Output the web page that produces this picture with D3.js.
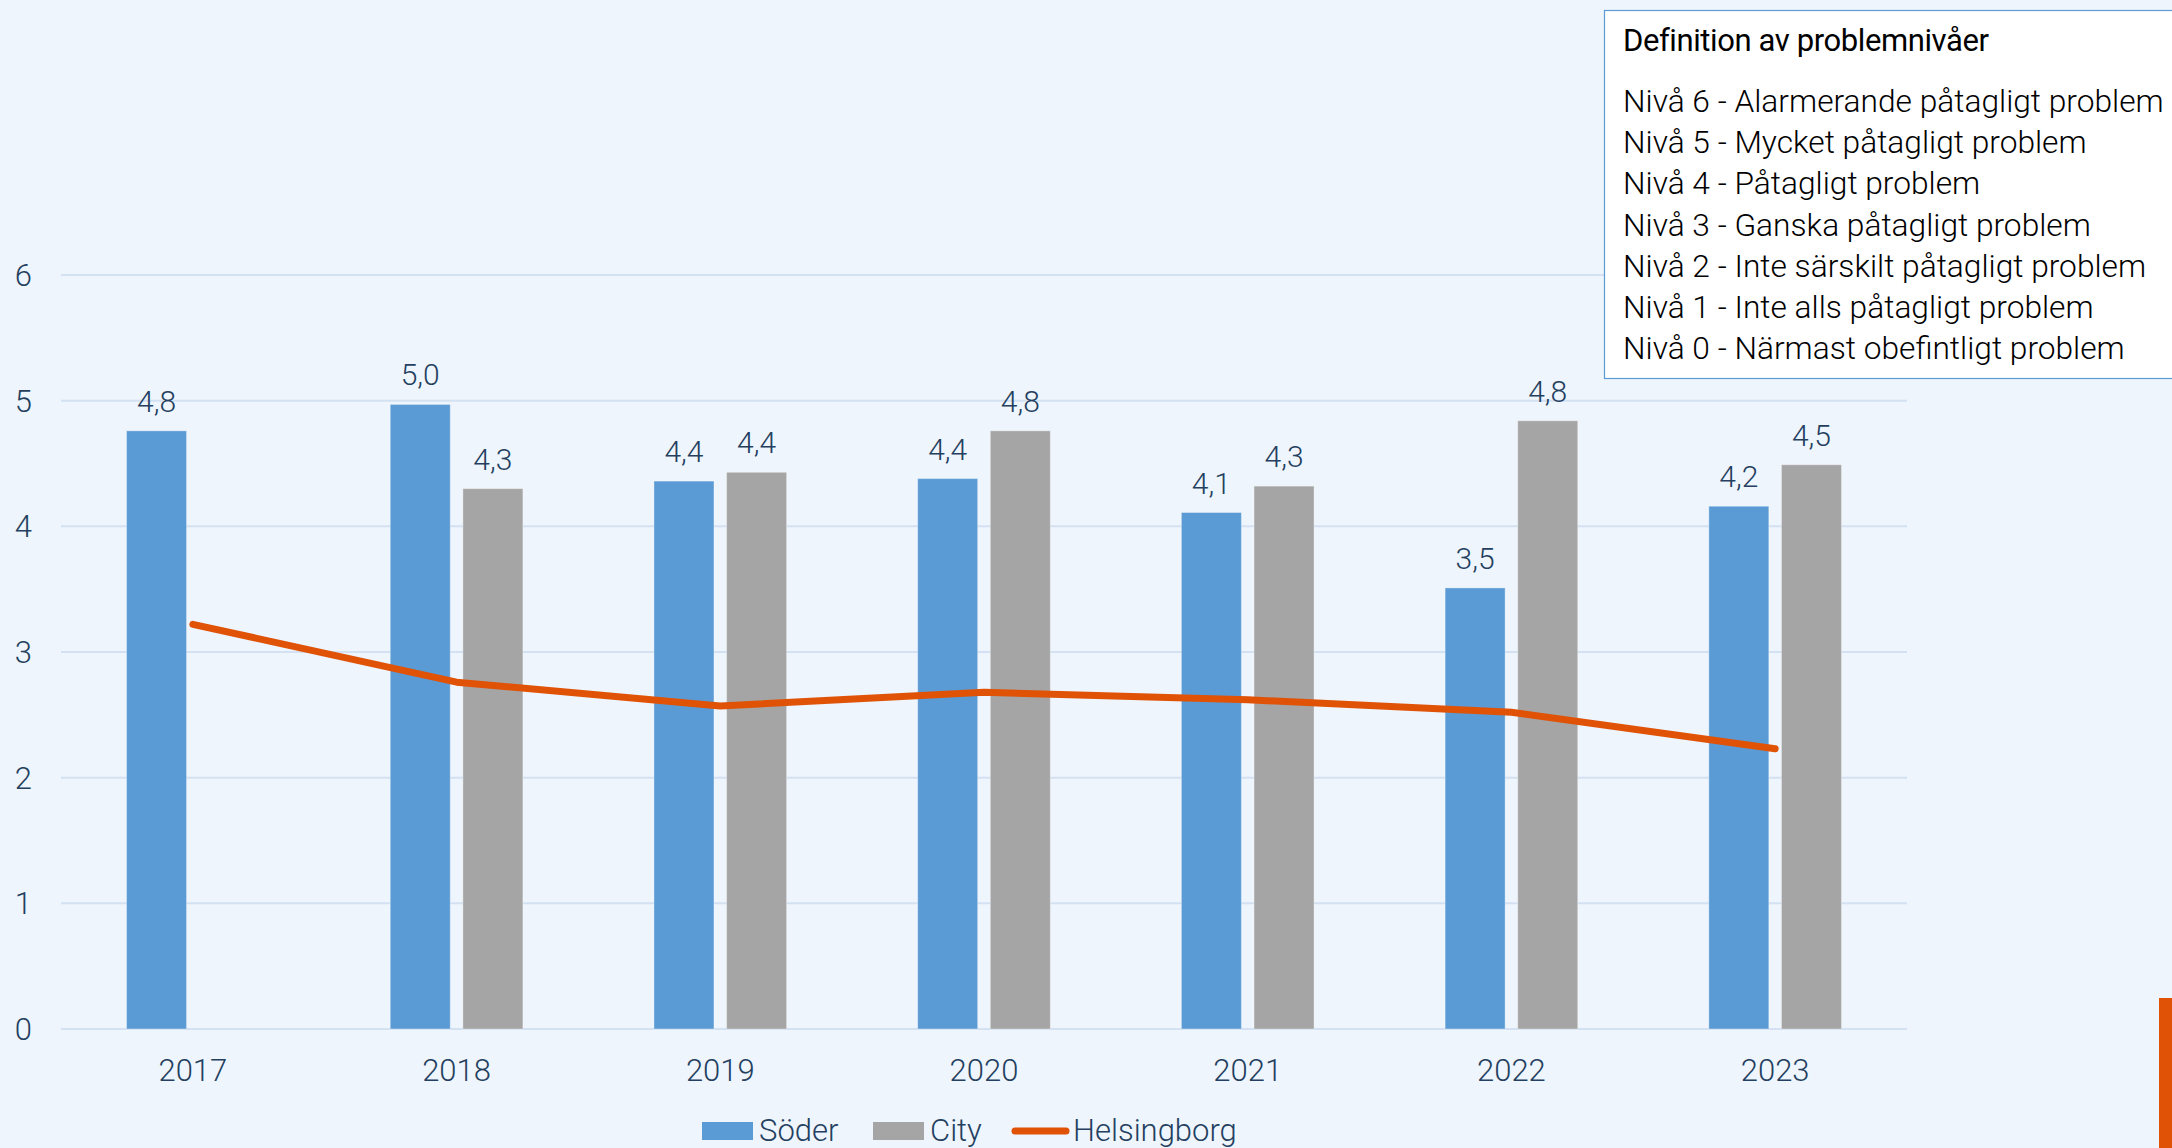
<!DOCTYPE html>
<html>
<head>
<meta charset="utf-8">
<script src="https://cdn.jsdelivr.net/npm/d3@7"></script>
<style>
  html, body { margin: 0; padding: 0; background: #eef5fc; }
  svg { display: block; font-family: Roboto, "Noto Sans", sans-serif; }
</style>
</head>
<body>
<div id="chart"></div>
<script>
// Data
const years = ["2017", "2018", "2019", "2020", "2021", "2022", "2023"];
const series = ["Söder", "City"];
const soder = [4.76, 4.97, 4.36, 4.38, 4.11, 3.51, 4.16];
const city = [null, 4.30, 4.43, 4.76, 4.32, 4.84, 4.49];
const helsingborg = [3.22, 2.76, 2.57, 2.68, 2.62, 2.52, 2.23];
const yTicks = [0, 1, 2, 3, 4, 5, 6];
const levelTitle = "Definition av problemnivåer";
const levels = [
  "Nivå 6 - Alarmerande påtagligt problem",
  "Nivå 5 - Mycket påtagligt problem",
  "Nivå 4 - Påtagligt problem",
  "Nivå 3 - Ganska påtagligt problem",
  "Nivå 2 - Inte särskilt påtagligt problem",
  "Nivå 1 - Inte alls påtagligt problem",
  "Nivå 0 - Närmast obefintligt problem"
];

const W = 2172, H = 1148;
const colors = { "Söder": "#5b9bd5", "City": "#a5a5a5", line: "#e05206" };
const textColor = "#243f60";
const plot = { left: 61, right: 1907, top: 275, bottom: 1029 };

const svg = d3.select("#chart").append("svg")
  .attr("width", W)
  .attr("height", H);

svg.append("rect")
  .attr("width", W)
  .attr("height", H)
  .attr("fill", "#eef5fc");

// Scales
const x0 = d3.scaleBand()
  .domain(years)
  .range([plot.left, plot.right])
  .padding(0);

const groupW = x0.bandwidth() * 0.503;
const x1 = d3.scaleBand()
  .domain(series)
  .range([0, groupW])
  .paddingInner(0.174);

const y = d3.scaleLinear()
  .domain([0, 6])
  .range([plot.bottom, plot.top]);

// Gridlines
svg.append("g")
  .selectAll("line")
  .data(yTicks)
  .join("line")
  .attr("x1", plot.left)
  .attr("x2", plot.right)
  .attr("y1", d => y(d))
  .attr("y2", d => y(d))
  .attr("stroke", "#d3e1f2")
  .attr("stroke-width", 2);

// Y tick labels
svg.append("g")
  .selectAll("text")
  .data(yTicks)
  .join("text")
  .attr("x", 32)
  .attr("y", d => y(d))
  .attr("dy", "0.35em")
  .attr("text-anchor", "end")
  .attr("font-size", 31)
  .attr("font-weight", 300)
  .attr("fill", textColor)
  .text(d => d);

// X tick labels
svg.append("g")
  .selectAll("text")
  .data(years)
  .join("text")
  .attr("x", d => x0(d) + x0.bandwidth() / 2)
  .attr("y", 1081)
  .attr("text-anchor", "middle")
  .attr("font-size", 31)
  .attr("font-weight", 300)
  .attr("fill", textColor)
  .text(d => d);

// Bars
const barData = [];
years.forEach((yr, i) => {
  [soder[i], city[i]].forEach((v, j) => {
    if (v != null) barData.push({ year: yr, key: series[j], value: v });
  });
});

const groupOffset = (x0.bandwidth() - groupW) / 2;

svg.append("g")
  .selectAll("rect")
  .data(barData)
  .join("rect")
  .attr("x", d => x0(d.year) + groupOffset + x1(d.key))
  .attr("y", d => y(d.value))
  .attr("width", x1.bandwidth())
  .attr("height", d => y(0) - y(d.value))
  .attr("fill", d => colors[d.key])
  .attr("stroke", "rgba(255,255,255,0.35)")
  .attr("stroke-width", 1);

// Bar value labels
const fmt = v => d3.format(".1f")(v).replace(".", ",");
svg.append("g")
  .selectAll("text")
  .data(barData)
  .join("text")
  .attr("x", d => x0(d.year) + groupOffset + x1(d.key) + x1.bandwidth() / 2)
  .attr("y", d => y(d.value) - 19)
  .attr("text-anchor", "middle")
  .attr("font-size", 30)
  .attr("font-weight", 300)
  .attr("fill", textColor)
  .text(d => fmt(d.value));

// Helsingborg line
const line = d3.line()
  .x((d, i) => x0(years[i]) + x0.bandwidth() / 2)
  .y(d => y(d));

svg.append("path")
  .datum(helsingborg)
  .attr("d", line)
  .attr("fill", "none")
  .attr("stroke", colors.line)
  .attr("stroke-width", 7)
  .attr("stroke-linecap", "round")
  .attr("stroke-linejoin", "round");

// Legend at bottom
const legend = svg.append("g").attr("font-size", 31).attr("font-weight", 300).attr("fill", textColor);
const legendItems = [
  { label: "Söder", type: "rect", color: colors["Söder"], x: 702 },
  { label: "City", type: "rect", color: colors["City"], x: 873 },
  { label: "Helsingborg", type: "line", color: colors.line, x: 1012 }
];
legendItems.forEach(item => {
  if (item.type === "rect") {
    legend.append("rect")
      .attr("x", item.x).attr("y", 1122)
      .attr("width", 51).attr("height", 18)
      .attr("fill", item.color);
  } else {
    legend.append("line")
      .attr("x1", item.x + 3).attr("x2", item.x + 54)
      .attr("y1", 1131).attr("y2", 1131)
      .attr("stroke", item.color)
      .attr("stroke-width", 7)
      .attr("stroke-linecap", "round");
  }
  legend.append("text")
    .attr("x", item.x + (item.type === "rect" ? 57 : 61))
    .attr("y", 1141)
    .text(item.label);
});

// Level definition box
const box = svg.append("g");
box.append("rect")
  .attr("x", 1604.5)
  .attr("y", 10.5)
  .attr("width", 600)
  .attr("height", 368)
  .attr("fill", "#ffffff")
  .attr("stroke", "#5b9bd5")
  .attr("stroke-width", 1.2);

box.append("text")
  .attr("x", 1623)
  .attr("y", 51)
  .attr("font-size", 31)
  .attr("font-weight", 400)
  .attr("letter-spacing", -0.4)
  .attr("fill", "#000")
  .text(levelTitle);

box.selectAll("text.level")
  .data(levels)
  .join("text")
  .attr("class", "level")
  .attr("x", 1623)
  .attr("y", (d, i) => 112 + i * 41.2)
  .attr("font-size", 31.7)
  .attr("font-weight", 300)
  .attr("fill", "#000")
  .text(d => d);

// Orange accent at bottom right
svg.append("rect")
  .attr("x", 2159)
  .attr("y", 998)
  .attr("width", 13)
  .attr("height", 150)
  .attr("fill", colors.line);
</script>
</body>
</html>
